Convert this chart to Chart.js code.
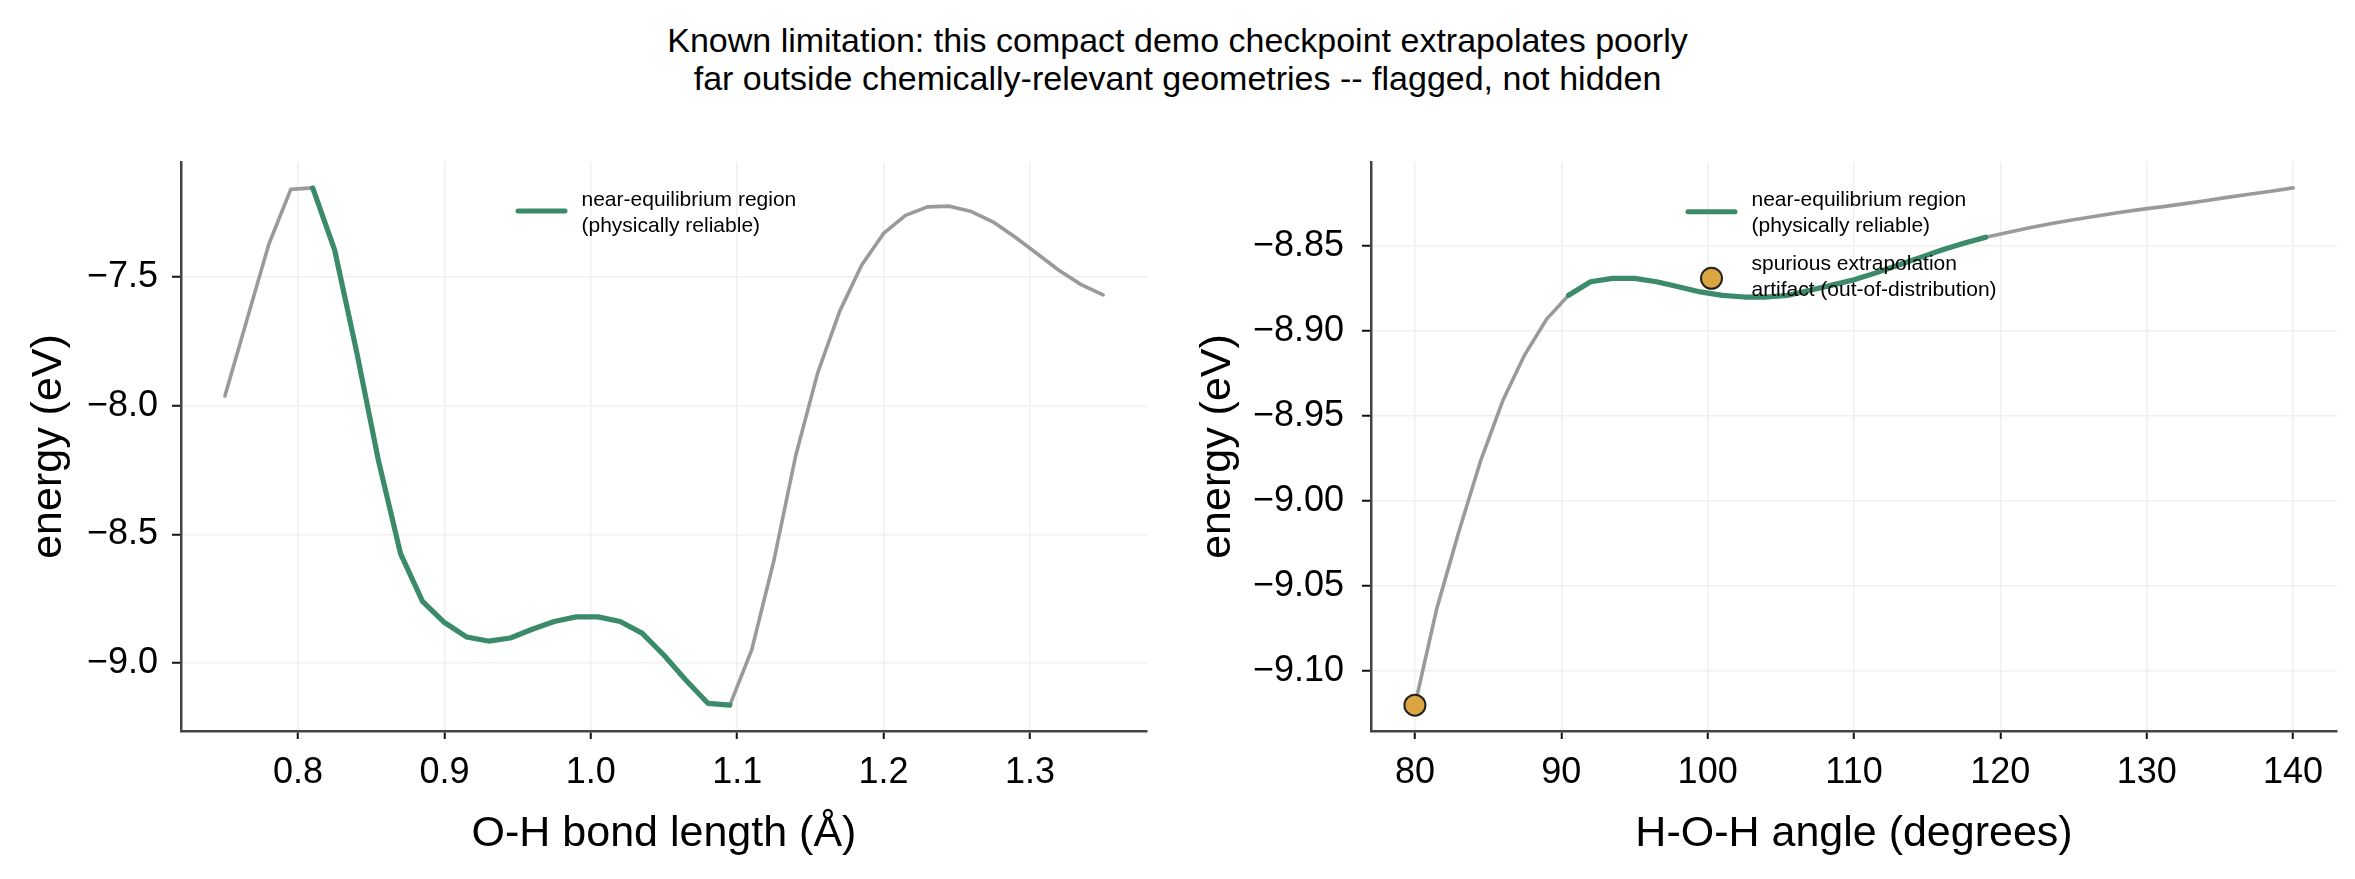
<!DOCTYPE html>
<html>
<head>
<meta charset="utf-8">
<script src="https://cdn.jsdelivr.net/npm/chart.js@4.4.1/dist/chart.umd.min.js"></script>
<style>
  html, body { margin: 0; padding: 0; background: #fff; }
  #wrap { position: relative; width: 2355px; height: 879px; overflow: hidden; font-family: "Liberation Sans", Arial, sans-serif; }
  #title { position: absolute; left: 0; top: 22px; width: 2355px; text-align: center; font-size: 34px; line-height: 37.7px; color: #000; }
  canvas { position: absolute; top: 0; }
  #leftChart { left: 0; }
  #rightChart { left: 1169px; }
</style>
</head>
<body>
<div id="wrap">
  <div id="title">Known limitation: this compact demo checkpoint extrapolates poorly<br>far outside chemically-relevant geometries -- flagged, not hidden</div>
  <canvas id="leftChart" width="1177" height="879"></canvas>
  <canvas id="rightChart" width="1186" height="879"></canvas>
</div>
<script>
const FONT = '"Liberation Sans", Arial, sans-serif';
const GREEN = '#3b8b6a';
const GRAY = '#9a9a9a';
const ORANGE = '#dba542';

// O-H bond scan
const bondLength = [0.75, 0.765, 0.78, 0.795, 0.81, 0.825, 0.84, 0.855, 0.87, 0.885, 0.9, 0.915, 0.93, 0.945,
    0.96, 0.975, 0.99, 1.005, 1.02, 1.035, 1.05, 1.065, 1.08, 1.095, 1.11, 1.125, 1.14, 1.155, 1.17, 1.185,
    1.2, 1.215, 1.23, 1.245, 1.26, 1.275, 1.29, 1.305, 1.32, 1.335, 1.35];
const bondEnergy = [-7.963, -7.667, -7.373, -7.160, -7.154, -7.396, -7.791, -8.216, -8.575, -8.761, -8.843,
    -8.899, -8.915, -8.903, -8.869, -8.839, -8.821, -8.821, -8.839, -8.884, -8.970, -9.067, -9.157, -9.164,
    -8.948, -8.604, -8.194, -7.873, -7.634, -7.455, -7.331, -7.261, -7.228, -7.225, -7.246, -7.287, -7.346,
    -7.410, -7.475, -7.530, -7.570];
const bondReliable = [0.81, 1.095];
const bondTicks = [0.8, 0.9, 1.0, 1.1, 1.2, 1.3];
const bondEnergyTicks = [-7.5, -8.0, -8.5, -9.0];

// H-O-H angle scan
const angle = [80, 81.5, 83, 84.5, 86, 87.5, 89, 90.5, 92, 93.5, 95, 96.5, 98, 99.5, 101, 102.5, 104, 105.5,
    107, 108.5, 110, 111.5, 113, 114.5, 116, 117.5, 119, 120.5, 122, 123.5, 125, 126.5, 128, 129.5, 131,
    132.5, 134, 135.5, 137, 138.5, 140];
const angleEnergy = [-9.120, -9.063, -9.018, -8.976, -8.941, -8.914, -8.893, -8.879, -8.871, -8.869, -8.869,
    -8.871, -8.874, -8.877, -8.879, -8.880, -8.880, -8.879, -8.876, -8.873, -8.8698, -8.8658, -8.8613,
    -8.8568, -8.8523, -8.8484, -8.8448, -8.8420, -8.8392, -8.8367, -8.8345, -8.8325, -8.8304, -8.8286,
    -8.8270, -8.8252, -8.8234, -8.8214, -8.8196, -8.8178, -8.8158];
const angleReliable = [90.5, 119];
const angleTicks = [80, 90, 100, 110, 120, 130, 140];
const angleEnergyTicks = [-8.85, -8.90, -8.95, -9.00, -9.05, -9.10];

// out-of-distribution point
const artifactAngle = [80];
const artifactEnergy = [-9.12];

function toPoints(xs, ys) {
    return xs.map((x, i) => ({ x: x, y: ys[i] }));
}

function within(xs, ys, range) {
    return toPoints(xs, ys).filter(p => p.x >= range[0] - 1e-9 && p.x <= range[1] + 1e-9);
}

// matplotlib style 5% margins
function padded(values) {
    const lo = Math.min(...values), hi = Math.max(...values);
    const m = (hi - lo) * 0.05;
    return [lo - m, hi + m];
}

function fmt(v, dec) {
    const s = Math.abs(v).toFixed(dec);
    return v < -1e-12 ? '\u2212' + s : s;
}

// legend drawn like matplotlib (multi-line labels)
const mplLegend = {
    id: 'mplLegend',
    afterDraw(chart, args, opts) {
        const ctx = chart.ctx;
        const a = chart.chartArea;
        ctx.save();
        ctx.font = '21px ' + FONT;
        ctx.fillStyle = '#000';
        ctx.textBaseline = 'alphabetic';
        opts.items.forEach(item => {
            const x0 = a.left + opts.x;
            const y0 = a.top + item.handleY;
            if (item.type === 'line') {
                ctx.strokeStyle = GREEN;
                ctx.lineWidth = 5;
                ctx.lineCap = 'round';
                ctx.beginPath();
                ctx.moveTo(x0, y0);
                ctx.lineTo(x0 + 47, y0);
                ctx.stroke();
            } else {
                ctx.fillStyle = ORANGE;
                ctx.strokeStyle = '#222';
                ctx.lineWidth = 2;
                ctx.beginPath();
                ctx.arc(x0 + 23.5, y0, 10.5, 0, Math.PI * 2);
                ctx.fill();
                ctx.stroke();
                ctx.fillStyle = '#000';
            }
            item.text.forEach((t, i) => {
                ctx.fillText(t, x0 + 63.5, a.top + item.textY + i * 25.7);
            });
        });
        ctx.restore();
    }
};

function makeScales(c) {
    return {
        x: {
            type: 'linear',
            min: c.xRange[0],
            max: c.xRange[1],
            afterFit: s => { s.height = 148; },
            afterBuildTicks: s => { s.ticks = c.xTicks.map(v => ({ value: v })); },
            ticks: {
                font: { family: FONT, size: 36 }, color: '#000', padding: 12,
                maxRotation: 0, autoSkip: false, callback: v => fmt(v, c.xDec)
            },
            grid: { color: '#f0f0f0', lineWidth: 1.5, tickLength: 8, tickColor: '#111', tickWidth: 2 },
            border: { color: '#444', width: 2.5 },
            title: { display: true, text: c.xTitle, font: { family: FONT, size: 43 }, color: '#000', padding: { top: 0, bottom: 19 } }
        },
        y: {
            type: 'linear',
            min: c.yRange[0],
            max: c.yRange[1],
            afterFit: s => { s.width = c.yWidth; },
            afterBuildTicks: s => { s.ticks = c.yTicks.map(v => ({ value: v })); },
            ticks: {
                font: { family: FONT, size: 36 }, color: '#000', padding: c.yPad,
                autoSkip: false, callback: v => fmt(v, c.yDec)
            },
            grid: { color: '#f0f0f0', lineWidth: 1.5, tickLength: 9, tickColor: '#111', tickWidth: 2 },
            border: { color: '#444', width: 2.5 },
            title: { display: true, text: 'energy (eV)', font: { family: FONT, size: 43 }, color: '#000', padding: { top: 23, bottom: 0 } }
        }
    };
}

function lineSet(points, color, width, order) {
    return {
        data: points, showLine: true, borderColor: color, borderWidth: width,
        pointRadius: 0, borderJoinStyle: 'round', borderCapStyle: 'round', order: order, clip: false
    };
}

// left panel: bond length
new Chart(document.getElementById('leftChart'), {
    type: 'scatter',
    data: {
        datasets: [
            lineSet(toPoints(bondLength, bondEnergy), GRAY, 3.6, 3),
            lineSet(within(bondLength, bondEnergy, bondReliable), GREEN, 5.2, 2)
        ]
    },
    options: {
        responsive: false,
        animation: false,
        devicePixelRatio: 1,
        layout: { padding: { top: 162, right: 30, left: 0, bottom: 0 }, autoPadding: false },
        scales: makeScales({
            xRange: padded(bondLength), yRange: padded(bondEnergy),
            xTicks: bondTicks, yTicks: bondEnergyTicks, xDec: 1, yDec: 1, yPad: 14,
            xTitle: 'O-H bond length (\u00c5)', yWidth: 181
        }),
        plugins: {
            legend: { display: false },
            tooltip: { enabled: false },
            mplLegend: {
                x: 337,
                items: [{ type: 'line', handleY: 49, textY: 44, text: ['near-equilibrium region', '(physically reliable)'] }]
            }
        }
    },
    plugins: [mplLegend]
});

// right panel: angle
new Chart(document.getElementById('rightChart'), {
    type: 'scatter',
    data: {
        datasets: [
            lineSet(toPoints(angle, angleEnergy), GRAY, 3.6, 3),
            lineSet(within(angle, angleEnergy, angleReliable), GREEN, 5.2, 2),
            {
                data: toPoints(artifactAngle, artifactEnergy), showLine: false, order: 1, clip: false,
                pointRadius: 10.5, pointBackgroundColor: ORANGE, pointBorderColor: '#222', pointBorderWidth: 2
            }
        ]
    },
    options: {
        responsive: false,
        animation: false,
        devicePixelRatio: 1,
        layout: { padding: { top: 162, right: 18, left: 0, bottom: 0 }, autoPadding: false },
        scales: makeScales({
            xRange: padded(angle), yRange: padded(angleEnergy.concat(artifactEnergy)),
            xTicks: angleTicks, yTicks: angleEnergyTicks, xDec: 0, yDec: 2, yPad: 18,
            xTitle: 'H-O-H angle (degrees)', yWidth: 202
        }),
        plugins: {
            legend: { display: false },
            tooltip: { enabled: false },
            mplLegend: {
                x: 317,
                items: [
                    { type: 'line', handleY: 49.7, textY: 44, text: ['near-equilibrium region', '(physically reliable)'] },
                    { type: 'marker', handleY: 116.3, textY: 108, text: ['spurious extrapolation', 'artifact (out-of-distribution)'] }
                ]
            }
        }
    },
    plugins: [mplLegend]
});
</script>
</body>
</html>
